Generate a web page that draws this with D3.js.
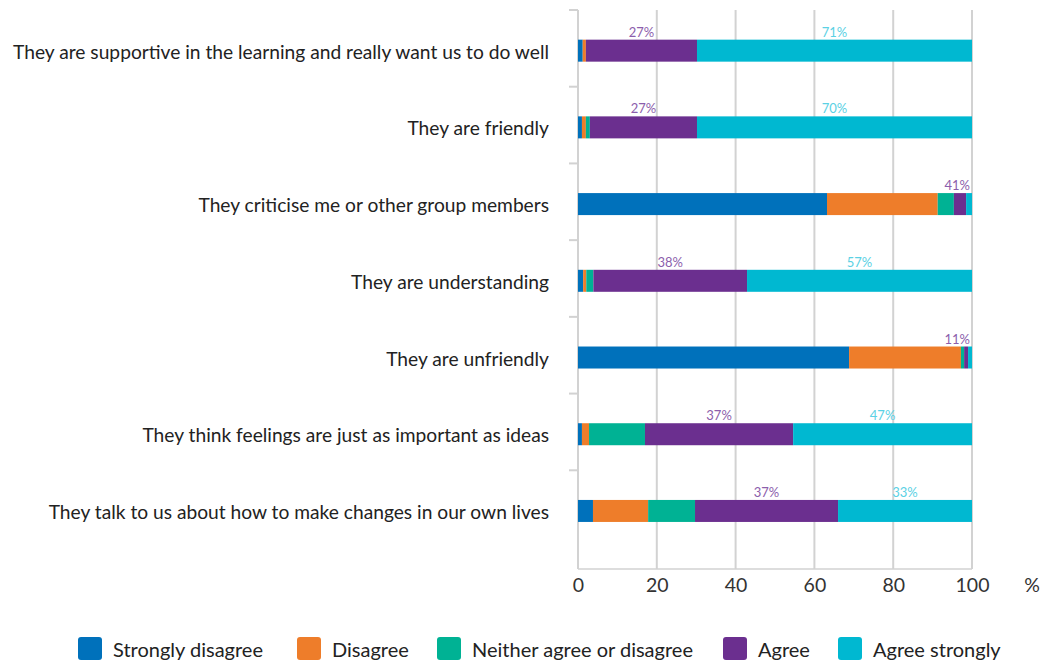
<!DOCTYPE html>
<html>
<head>
<meta charset="utf-8">
<script src="https://cdn.jsdelivr.net/npm/d3@7"></script>
<style>
  html, body { margin: 0; padding: 0; background: #fff; }
  svg { display: block; font-family: Lato, "Noto Sans", sans-serif; }
</style>
</head>
<body>
<svg id="chart" width="1041" height="661"></svg>
<script>
// ---- Data ----
const categories = [
  "They are supportive in the learning and really want us to do well",
  "They are friendly",
  "They criticise me or other group members",
  "They are understanding",
  "They are unfriendly",
  "They think feelings are just as important as ideas",
  "They talk to us about how to make changes in our own lives"
];
const seriesNames = ["Strongly disagree", "Disagree", "Neither agree or disagree", "Agree", "Agree strongly"];
const stronglyDisagree = [1.2, 1.0, 63.2, 1.3, 68.8, 1.0, 3.8];
const disagree         = [0.8, 1.0, 28.1, 0.8, 28.4, 1.8, 14.0];
const neither          = [0.0, 1.0, 4.1, 1.8, 0.8, 14.2, 11.9];
const agree            = [28.2, 27.2, 3.1, 39.0, 1.0, 37.6, 36.3];
const agreeStrongly    = [69.8, 69.8, 1.5, 57.1, 1.0, 45.4, 34.0];
const agreeLabels         = ["27%", "27%", "41%", "38%", "11%", "37%", "37%"];
const agreeStronglyLabels = ["71%", "70%", "", "57%", "", "47%", "33%"];
const xTicks = [0, 20, 40, 60, 80, 100];
const colors = ["#0071BB", "#EE7D2A", "#00B294", "#6B2F8F", "#00B8D1"];
const labelColors = { agree: "#8C5EAC", strong: "#5BD1E4" };

// ---- Layout ----
const svg = d3.select("#chart");
const plotLeft = 578, plotRight = 972, plotTop = 10, plotBottom = 569;
const x = d3.scaleLinear().domain([0, 100]).range([plotLeft, plotRight]);
const y = d3.scaleBand().domain(categories).range([plotTop, 547]);
const barH = 22;
const barY = c => y(c) + y.bandwidth() * 0.53 - barH / 2;

const allSeries = [stronglyDisagree, disagree, neither, agree, agreeStrongly];
const rows = categories.map((c, i) => {
  const r = { cat: c };
  seriesNames.forEach((s, k) => r[s] = allSeries[k][i]);
  return r;
});
const stacked = d3.stack().keys(seriesNames)(rows);

// gridlines
const gridColor = "#d2d2d2";
svg.append("g").selectAll("line").data(xTicks.slice(1)).join("line")
  .attr("x1", d => x(d)).attr("x2", d => x(d))
  .attr("y1", plotTop).attr("y2", plotBottom)
  .attr("stroke", gridColor).attr("stroke-width", 2);

// left axis line + band ticks
svg.append("line").attr("x1", plotLeft).attr("x2", plotLeft)
  .attr("y1", plotTop).attr("y2", plotBottom)
  .attr("stroke", gridColor).attr("stroke-width", 2);
svg.append("g").selectAll("line").data(categories).join("line")
  .attr("x1", plotLeft - 9).attr("x2", plotLeft)
  .attr("y1", d => y(d)).attr("y2", d => y(d))
  .attr("stroke", gridColor).attr("stroke-width", 2);
// bottom axis line
svg.append("line").attr("x1", plotLeft).attr("x2", plotRight)
  .attr("y1", plotBottom).attr("y2", plotBottom)
  .attr("stroke", gridColor).attr("stroke-width", 1.5);

// bars
svg.append("g").selectAll("g").data(stacked).join("g")
  .attr("fill", (d, i) => colors[i])
  .selectAll("rect").data(d => d).join("rect")
  .attr("x", d => x(d[0]))
  .attr("width", d => Math.max(0, x(d[1]) - x(d[0])))
  .attr("y", d => barY(d.data.cat))
  .attr("height", barH);

// value labels
function addLabels(series, labels, color) {
  svg.append("g").selectAll("text").data(series).join("text")
    .text((d, i) => labels[i])
    .attr("font-size", 13)
    .attr("fill", color)
    .attr("text-anchor", "middle")
    .attr("y", d => barY(d.data.cat) - 3)
    .attr("x", function(d) { return (x(d[0]) + x(d[1])) / 2; })
    .each(function() {
      const w = this.getComputedTextLength();
      const cx = +d3.select(this).attr("x");
      if (cx + w / 2 > plotRight - 2) d3.select(this).attr("x", plotRight - 2 - w / 2);
    });
}
addLabels(stacked[3], agreeLabels, labelColors.agree);
addLabels(stacked[4], agreeStronglyLabels, labelColors.strong);

// category labels
svg.append("g").selectAll("text").data(categories).join("text")
  .text(d => d)
  .attr("x", 549)
  .attr("y", d => barY(d) + barH / 2 + 8)
  .attr("text-anchor", "end")
  .attr("font-size", 19.2)
  .attr("fill", "#222");

// x axis labels
const xAxis = d3.axisBottom(x).tickValues(xTicks).tickSize(0).tickPadding(0);
const gx = svg.append("g").attr("transform", `translate(0,${plotBottom})`).call(xAxis);
gx.select(".domain").remove();
gx.selectAll("text").attr("font-size", 19.5).attr("fill", "#333")
  .attr("font-family", "Lato, sans-serif").attr("dy", null).attr("y", 23);
svg.append("text").text("%").attr("x", 1032).attr("y", 592)
  .attr("text-anchor", "middle").attr("font-size", 19.5).attr("fill", "#333");

// legend
const legendX = [78, 297, 437, 723, 838];
const lg = svg.append("g").selectAll("g").data(seriesNames).join("g")
  .attr("transform", (d, i) => `translate(${legendX[i]},637)`);
lg.append("rect").attr("width", 24).attr("height", 23).attr("rx", 3)
  .attr("fill", (d, i) => colors[i]);
lg.append("text").text(d => d).attr("x", 35).attr("y", 20)
  .attr("font-size", 20).attr("fill", "#222");
</script>
</body>
</html>
